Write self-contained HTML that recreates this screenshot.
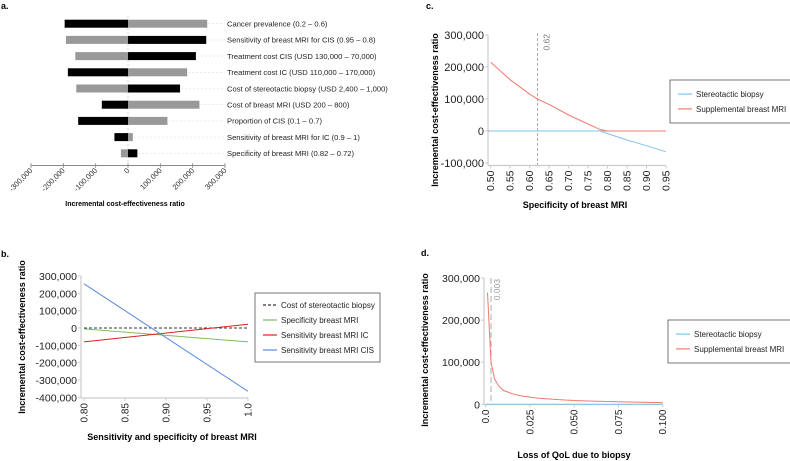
<!DOCTYPE html>
<html><head><meta charset="utf-8"><style>
html,body{margin:0;padding:0;background:#fff;}
svg{display:block;font-family:"Liberation Sans",sans-serif;}
</style></head><body>
<svg id="fig" width="790" height="461" viewBox="0 0 790 461">
<text x="1" y="9" font-size="9" font-weight="bold">a.</text>
<text x="1" y="257" font-size="9" font-weight="bold">b.</text>
<text x="426" y="9" font-size="9" font-weight="bold">c.</text>
<text x="421" y="256" font-size="9" font-weight="bold">d.</text>
<g id="pa"></g>
<g id="pb"></g>
<g id="pc"></g>
<g id="pd"></g>
</svg>
<script>
// ---- Panel a data ----
const tornadoLabels = ["Cancer prevalence (0.2 \u2013 0.6)","Sensitivity of breast MRI for CIS (0.95 \u2013 0.8)","Treatment cost CIS (USD 130,000 \u2013 70,000)","Treatment cost IC (USD 110,000 \u2013 170,000)","Cost of stereotactic biopsy (USD 2,400 \u2013 1,000)","Cost of breast MRI (USD 200 \u2013 800)","Proportion of CIS (0.1 \u2013 0.7)","Sensitivity of breast MRI for IC (0.9 \u2013 1)","Specificity of breast MRI (0.82 \u2013 0.72)"];
const tornadoLow = [-196000,-192000,-163000,-186000,-160000,-81000,-154000,-42000,-22000];
const tornadoHigh = [245000,242000,210000,183000,161000,221000,122000,15000,29000];
const tornadoLeftBlack = [true,false,false,true,false,true,true,true,false];
const tornadoTicks = [-300000,-200000,-100000,0,100000,200000,300000];
// ---- Panel b data ----
const bX = [0.80,1.0];
const bStereo = [0,0];
const bSpec = [-5000,-80000];
const bSensIC = [-80000,22000];
const bSensCIS = [255000,-365000];
const bYTicks = [300000,200000,100000,0,-100000,-200000,-300000,-400000];
const bXTicks = [0.80,0.85,0.90,0.95,1.0];
const bXTickLabels = ["0.80","0.85","0.90","0.95","1.0"];
// ---- Panel c data ----
const cX = [0.50,0.55,0.60,0.62,0.65,0.70,0.75,0.78,0.80,0.85,0.90,0.95];
const cMRI = [215000,160000,115000,100000,83000,50000,22000,5000,0,0,0,0];
const cBiopsy = [0,0,0,0,0,0,0,0,-8000,-28000,-46000,-65000];
const cYTicks = [300000,200000,100000,0,-100000];
const cXTicks = [0.50,0.55,0.60,0.65,0.70,0.75,0.80,0.85,0.90,0.95];
const cThreshold = 0.62;
// ---- Panel d data ----
const dX = [0.001,0.003,0.005,0.0075,0.01,0.015,0.02,0.025,0.03,0.04,0.05,0.06,0.075,0.1];
const dMRI = [265000,100000,60000,42000,33000,25000,20000,17000,14500,11500,9000,7500,6000,4000];
const dBiopsy = [0,0,0,0,0,0,0,0,0,0,0,0,0,0];
const dYTicks = [300000,200000,100000,0];
const dXTicks = [0,0.025,0.05,0.075,0.1];
const dXTickLabels = ["0.0","0.025","0.050","0.075","0.100"];
const dThreshold = 0.003;

const NS="http://www.w3.org/2000/svg";
function mk(parent,tag,attrs,text){const e=document.createElementNS(NS,tag);for(const k in attrs)e.setAttribute(k,attrs[k]);if(text!==undefined)e.textContent=text;parent.appendChild(e);return e;}
function fmt(v){return v.toLocaleString("en-US");}
function lin(d0,d1,r0,r1){return v=>r0+(v-d0)*(r1-r0)/(d1-d0);}
function pathD(xs,ys,sx,sy){return xs.map((x,i)=>(i?"L":"M")+sx(x).toFixed(1)+","+sy(ys[i]).toFixed(1)).join("");}

// ===== Panel a =====
(function(){
const g=document.getElementById("pa");
const sx=lin(-300000,300000,31,225);
const rowY=i=>23.7+i*16.2;
let el=mk(g,"line",{x1:sx(0),x2:sx(0),y1:16,y2:163,stroke:"#ccc","stroke-width":0.8,"stroke-dasharray":"2,2"});


tornadoLabels.forEach((lab,i)=>{
  const y=rowY(i);
  const lowCol=tornadoLeftBlack[i]?"#000":"#999", hiCol=tornadoLeftBlack[i]?"#999":"#000";
  let r=mk(g,"rect",{x:sx(tornadoLow[i]),y:y-4,width:sx(0)-sx(tornadoLow[i]),height:8,fill:lowCol});
  
  
  r=mk(g,"rect",{x:sx(0),y:y-4,width:sx(tornadoHigh[i])-sx(0),height:8,fill:hiCol});
  
  
  let l=mk(g,"line",{x1:sx(tornadoHigh[i])+1,x2:225,y1:y,y2:y,stroke:"#ddd","stroke-width":0.6,"stroke-dasharray":"2,2"});
  
  
  let t=mk(g,"text",{x:227,y:y+2.8,"font-size":"7.6",fill:"#222"},lab);
  
  
});
let ax=mk(g,"line",{x1:31,x2:225,y1:165.5,y2:165.5,stroke:"#888","stroke-width":1});


tornadoTicks.forEach(v=>{
  const x=sx(v);
  let tk=mk(g,"line",{x1:x,x2:x,y1:163,y2:168,stroke:"#888","stroke-width":0.8});
  
  
  let t=mk(g,"text",{x:x+2,y:171,"font-size":"7.5","text-anchor":"end",fill:"#333",transform:`rotate(-45 ${x+2} 171)`},fmt(v));
  
  
});
let tt=mk(g,"text",{x:125,y:206,"font-size":"7","font-weight":"bold","text-anchor":"middle"},"Incremental cost-effectiveness ratio");


})();

// generic line panel
function linePanel(g,o){
  const sx=lin(o.xd[0],o.xd[1],o.xr[0],o.xr[1]);
  const sy=lin(o.yd[0],o.yd[1],o.yr[0],o.yr[1]);
  let a=mk(g,"line",{x1:o.axX,x2:o.axX,y1:o.yr[1],y2:o.axY,stroke:"#ccc","stroke-width":1.2});
  
  
  a=mk(g,"line",{x1:o.axX,x2:o.xr[1],y1:o.axY,y2:o.axY,stroke:"#ccc","stroke-width":1.2});
  
  
  o.yTicks.forEach(v=>{
    const y=sy(v);
    let tk=mk(g,"line",{x1:o.axX-3,x2:o.axX,y1:y,y2:y,stroke:"#ccc","stroke-width":1});
    
    
    let t=mk(g,"text",{x:o.axX-4,y:y+4,"font-size":o.yfs,"text-anchor":"end",fill:"#222"},fmt(v));
    
    
  });
  o.xTicks.forEach((v,i)=>{
    const x=sx(v);
    let tk=mk(g,"line",{x1:x,x2:x,y1:o.axY,y2:o.axY+3,stroke:"#ccc","stroke-width":1});
    
    
    const ty=o.axY+5;
    let t=mk(g,"text",{x:x+3.5,y:ty,"font-size":o.xfs,"text-anchor":"end",fill:"#222",transform:`rotate(-90 ${x+3.5} ${ty})`},o.xLabels?o.xLabels[i]:v.toFixed(2));
    
    
  });
  let xt=mk(g,"text",{x:o.xTitle[0],y:o.xTitle[1],"font-size":o.tfs,"font-weight":"bold","text-anchor":"middle"},o.xTitle[2]);
  
  
  let yt=mk(g,"text",{x:o.yTitle[0],y:o.yTitle[1],"font-size":o.tfs,"font-weight":"bold","text-anchor":"middle",transform:`rotate(-90 ${o.yTitle[0]} ${o.yTitle[1]})`},"Incremental cost-effectiveness ratio");
  
  
  return {sx,sy};
}
function legend(g,x,y,w,h,items,fs){
  let b=mk(g,"rect",{x:x,y:y,width:w,height:h,fill:"#fff",stroke:"#555","stroke-width":0.8});
  
  
  const step=h/(items.length+ (items.length>2?0.6:0.9));
  items.forEach((it,i)=>{
    const yy=y+step*(i+ (items.length>2?0.8:0.95));
    let l=mk(g,"line",{x1:x+8,x2:x+22,y1:yy,y2:yy,stroke:it.c,"stroke-width":1.2});
    if(it.dash)l.setAttribute("stroke-dasharray","3,2");
    
    
    let t=mk(g,"text",{x:x+26,y:yy+3,"font-size":fs,fill:"#222"},it.t);
    
    
  });
}
function series(g,xs,ys,s,col,name,dash){
  let p=mk(g,"path",{d:pathD(xs,ys,s.sx,s.sy),fill:"none",stroke:col,"stroke-width":1});
  if(dash)p.setAttribute("stroke-dasharray","3,2");
  
  
}

// ===== Panel b =====
(function(){
const g=document.getElementById("pb");
const s=linePanel(g,{xd:[0.80,1.0],xr:[84,248],yd:[0,300000],yr:[328,276],axX:81,axY:398,yTicks:bYTicks,xTicks:bXTicks,xLabels:bXTickLabels,yfs:"10.5",xfs:"10",tfs:"9",xTitle:[172,440,"Sensitivity and specificity of breast MRI"],yTitle:[25,337]});
series(g,bX,bStereo,s,"#333","line-stereotactic-cost",true);
series(g,bX,bSpec,s,"#7cbf5a","line-specificity");
series(g,bX,bSensIC,s,"#e02020","line-sensitivity-ic");
series(g,bX,bSensCIS,s,"#5b8bd9","line-sensitivity-cis");
legend(g,255,293,125,69,[{t:"Cost of stereotactic biopsy",c:"#333",dash:true},{t:"Specificity breast MRI",c:"#7cbf5a"},{t:"Sensitivity breast MRI IC",c:"#e02020"},{t:"Sensitivity breast MRI CIS",c:"#5b8bd9"}],"8");
})();

// ===== Panel c =====
(function(){
const g=document.getElementById("pc");
const s=linePanel(g,{xd:[0.50,0.95],xr:[490.7,666],yd:[0,300000],yr:[131,35],axX:488,axY:165.5,yTicks:cYTicks,xTicks:cXTicks,yfs:"11",xfs:"10.5",tfs:"9",xTitle:[575,208,"Specificity of breast MRI"],yTitle:[438,110]});
let z=mk(g,"line",{x1:488,x2:666,y1:s.sy(0),y2:s.sy(0),stroke:"#999","stroke-width":0.8});


const tx=s.sx(cThreshold);
let d=mk(g,"line",{x1:tx,x2:tx,y1:33,y2:165,stroke:"#999","stroke-width":0.8,"stroke-dasharray":"3,2"});


let t=mk(g,"text",{x:tx+12,y:34,"font-size":"8.5",fill:"#777","text-anchor":"end",transform:`rotate(-90 ${tx+12} 34)`},String(cThreshold));


series(g,cX,cBiopsy,s,"#7ec3ee","line-stereotactic-biopsy");
series(g,cX,cMRI,s,"#f07b6e","line-supplemental-mri");
legend(g,670,80,125,43,[{t:"Stereotactic biopsy",c:"#7ec3ee"},{t:"Supplemental breast MRI",c:"#f07b6e"}],"8");
})();

// ===== Panel d =====
(function(){
const g=document.getElementById("pd");
const s=linePanel(g,{xd:[0,0.1],xr:[485.7,662.7],yd:[0,300000],yr:[404.3,278],axX:484,axY:404.5,yTicks:dYTicks,xTicks:dXTicks,xLabels:dXTickLabels,yfs:"10.5",xfs:"10",tfs:"9",xTitle:[574,458,"Loss of QoL due to biopsy"],yTitle:[428,350]});
const tx=s.sx(dThreshold);
let d=mk(g,"line",{x1:tx,x2:tx,y1:278,y2:404,stroke:"#999","stroke-width":0.8,"stroke-dasharray":"6,3"});


let t=mk(g,"text",{x:tx+9,y:279,"font-size":"8.5",fill:"#999","text-anchor":"end",transform:`rotate(-90 ${tx+9} 279)`},"0.003");


series(g,[0].concat(dX),[0].concat(dBiopsy),s,"#7ec3ee","line-stereotactic-biopsy");
series(g,dX,dMRI,s,"#f07b6e","line-supplemental-mri");
legend(g,668,320,125,43,[{t:"Stereotactic biopsy",c:"#7ec3ee"},{t:"Supplemental breast MRI",c:"#f07b6e"}],"8");
})();
</script>
</body></html>
